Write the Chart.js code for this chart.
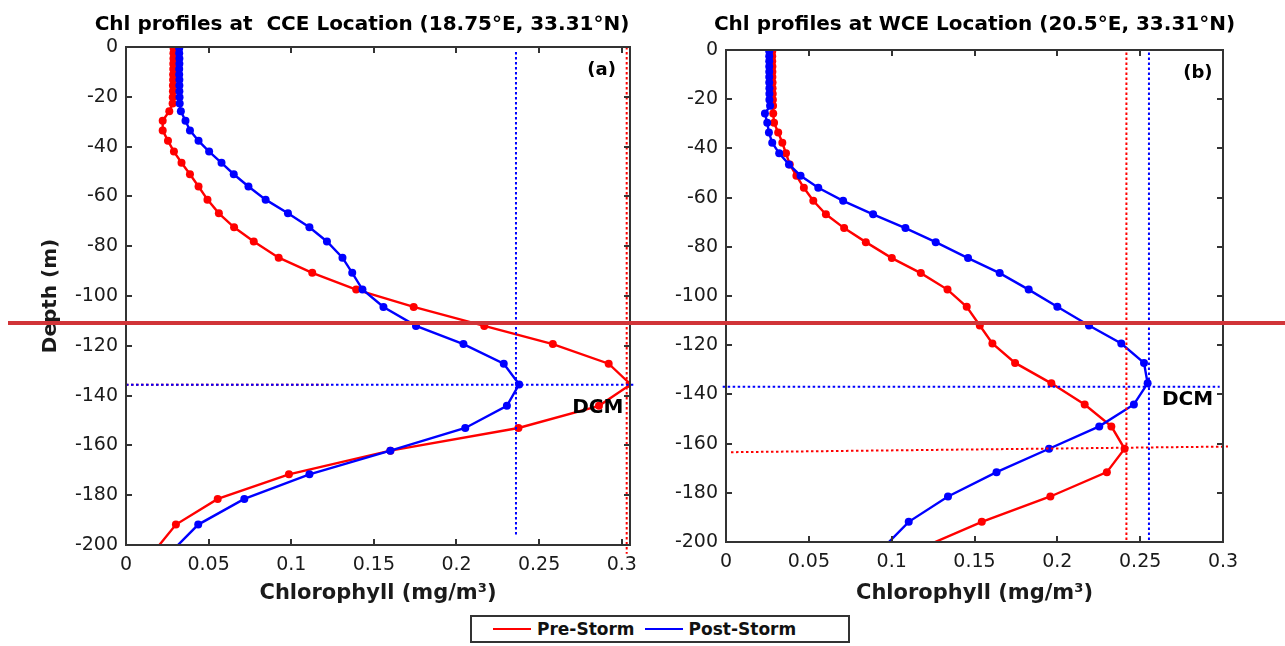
<!DOCTYPE html>
<html>
<head>
<meta charset="utf-8">
<script src="https://cdn.jsdelivr.net/npm/chart.js@4/dist/chart.umd.min.js"></script>
<style>
  body { margin: 0; background: #fff; width: 1285px; height: 646px; position: relative; overflow: hidden; }
  canvas { position: absolute; top: 0; }
  #chartA { left: 0; }
  #chartB { left: 650px; }
  #cut { position: absolute; left: 8px; top: 321px; width: 1277px; height: 4px; background: #d13438; z-index: 5; }
  #legend { position: absolute; left: 470px; top: 615px; width: 376px; height: 24px; border: 2px solid #333;
            font: bold 17px "DejaVu Sans", sans-serif; color: #111; display: flex; align-items: center; }
  #legend .sw { display: inline-block; width: 38px; height: 2px; margin: 0 6px 0 0; }
  #legend .it { display: flex; align-items: center; }
</style>
</head>
<body>
<canvas id="chartA" width="650" height="610"></canvas>
<canvas id="chartB" width="635" height="610"></canvas>
<div id="cut"></div>
<div id="legend">
  <span class="it" style="margin-left:21px"><span class="sw" style="background:#ff0000"></span>Pre-Storm</span>
  <span class="it" style="margin-left:10px"><span class="sw" style="background:#0000ff"></span>Post-Storm</span>
</div>
<script>
// depth of each model level (m), shared by all profiles
var depths = [0.5, 2.5, 4.6, 6.7, 8.8, 11, 13.2, 15.5, 17.8, 20.2, 22.7, 25.8, 29.6, 33.5, 37.7, 42, 46.5, 51.1, 56,
              61.3, 66.8, 72.4, 78.1, 84.6, 90.7, 97.4, 104.4, 112, 119.3, 127.2, 135.5, 144.1, 153, 162.1, 171.6,
              181.5, 191.8, 203];

// (a) CCE
var preCCE  = [0.0288, 0.0287, 0.0287, 0.0286, 0.0286, 0.0285, 0.0285, 0.0284, 0.0284, 0.0283, 0.0282, 0.0262, 0.0222,
               0.0222, 0.0254, 0.029, 0.0336, 0.0387, 0.0439, 0.0493, 0.0562, 0.0654, 0.0773, 0.0924, 0.1127, 0.1393,
               0.1741, 0.2168, 0.2583, 0.2921, 0.3054, 0.2862, 0.2375, 0.16, 0.0986, 0.0555, 0.0302, 0.0165];
var postCCE = [0.0322, 0.0322, 0.0323, 0.0323, 0.0322, 0.0322, 0.0323, 0.0323, 0.0323, 0.0324, 0.0325, 0.0332, 0.036,
               0.0387, 0.0439, 0.0503, 0.0578, 0.0652, 0.0741, 0.0845, 0.098, 0.111, 0.1216, 0.131, 0.1369, 0.1431,
               0.1558, 0.1755, 0.2042, 0.2286, 0.2379, 0.2305, 0.2053, 0.16, 0.111, 0.0716, 0.0437, 0.027];

// (b) WCE
var preWCE  = [0.0279, 0.0279, 0.0279, 0.028, 0.028, 0.028, 0.0281, 0.0281, 0.0282, 0.0283, 0.0284, 0.0285, 0.029,
               0.0315, 0.034, 0.0362, 0.0385, 0.0425, 0.047, 0.0527, 0.0603, 0.0713, 0.0844, 0.1001, 0.1176, 0.1337,
               0.1453, 0.1532, 0.1608, 0.1745, 0.1964, 0.2165, 0.2326, 0.2406, 0.2299, 0.1958, 0.1544, 0.116];
var postWCE = [0.0261, 0.0261, 0.0261, 0.0261, 0.0261, 0.0261, 0.0261, 0.0262, 0.0262, 0.0262, 0.0266, 0.0235, 0.0249,
               0.0259, 0.0279, 0.0321, 0.038, 0.045, 0.0557, 0.0707, 0.0888, 0.1083, 0.1266, 0.1461, 0.1652, 0.1827,
               0.2, 0.2191, 0.2386, 0.2523, 0.2545, 0.2462, 0.2253, 0.195, 0.1633, 0.134, 0.1103, 0.094];

// DCM guide lines: [x0, depth0, x1, depth1]
var guidesA = {
  preV:  [0.303, 0, 0.303, 203.5],
  postV: [0.236, 2, 0.236, 196],
  preH:  [0, 135.6, 0.123, 135.6],
  postH: [0, 135.6, 0.307, 135.6]
};
var guidesB = {
  preV:  [0.2417, 1, 0.2417, 199.5],
  postV: [0.2553, 1, 0.2553, 199.5],
  preH:  [0.003, 163.5, 0.303, 161.2],
  postH: [-0.002, 136.9, 0.298, 136.9]
};

var xTickStep = 0.05;
var yTickStep = 20;
var titles = ["Chl profiles at  CCE Location (18.75°E, 33.31°N)", "Chl profiles at WCE Location (20.5°E, 33.31°N)"];

var RED = "#ff0000", BLUE = "#0000ff", INK = "#1a1a1a";
var FONT = '"DejaVu Sans", sans-serif';

function profile(vals) {
  return vals.map((v, i) => ({x: v, y: -depths[i]}));
}
function guide(g) {
  return [{x: g[0], y: -g[1]}, {x: g[2], y: -g[3]}];
}
function dotted(g, color) {
  return {data: guide(g), borderColor: color, borderWidth: 2, borderDash: [2.5, 2.5],
          pointRadius: 0, showLine: true, clip: false, fill: false};
}
function line(vals, color) {
  return {data: profile(vals), borderColor: color, backgroundColor: color, borderWidth: 2.4,
          pointRadius: 4, pointHoverRadius: 4, pointBorderWidth: 0, showLine: true, fill: false};
}

// axes box with inward ticks (MATLAB style), title and text notes
var frame = {
  id: "frame",
  afterDatasetsDraw(chart, args, opts) {
    const {ctx, chartArea: a, scales: {x, y}} = chart;
    ctx.save();
    ctx.strokeStyle = "#333";
    ctx.lineWidth = 2;
    ctx.strokeRect(a.left, a.top, a.right - a.left, a.bottom - a.top);
    ctx.beginPath();
    x.ticks.forEach(t => {
      const p = Math.round(x.getPixelForValue(t.value));
      ctx.moveTo(p, a.bottom); ctx.lineTo(p, a.bottom - 6);
      ctx.moveTo(p, a.top); ctx.lineTo(p, a.top + 6);
    });
    y.ticks.forEach(t => {
      const p = Math.round(y.getPixelForValue(t.value));
      ctx.moveTo(a.left, p); ctx.lineTo(a.left + 6, p);
      ctx.moveTo(a.right, p); ctx.lineTo(a.right - 6, p);
    });
    ctx.stroke();
    ctx.fillStyle = "#000";
    ctx.textAlign = "center";
    ctx.textBaseline = "alphabetic";
    ctx.font = "bold 20px " + FONT;
    ctx.fillText(opts.title, (a.left + a.right) / 2 + opts.titleShift, 30);
    ctx.textAlign = "right";
    ctx.textBaseline = "middle";
    (opts.notes || []).forEach(n => {
      ctx.font = "bold " + n.size + "px " + FONT;
      ctx.fillText(n.text, x.getPixelForValue(n.x), y.getPixelForValue(n.y));
    });
    ctx.restore();
  }
};

function makeChart(id, cfg) {
  return new Chart(document.getElementById(id), {
    type: "scatter",
    data: {
      datasets: [
        dotted(cfg.guides.postH, BLUE),
        dotted(cfg.guides.postV, BLUE),
        dotted(cfg.guides.preH, RED),
        dotted(cfg.guides.preV, RED),
        line(cfg.post, BLUE),
        line(cfg.pre, RED)
      ]
    },
    options: {
      responsive: false,
      animation: false,
      events: [],
      layout: {padding: {left: 0, right: cfg.padRight, top: cfg.padTop, bottom: 0}},
      plugins: {
        legend: {display: false},
        tooltip: {enabled: false},
        frame: {title: cfg.title, titleShift: cfg.titleShift, notes: cfg.notes}
      },
      scales: {
        x: {
          type: "linear", min: 0, max: cfg.xMax,
          grid: {display: false, drawTicks: false}, border: {display: false},
          ticks: {stepSize: xTickStep, includeBounds: false, padding: 9, color: INK, font: {family: FONT, size: 19},
                  callback: v => String(+v.toFixed(3))},
          title: {display: true, text: "Chlorophyll (mg/m³)", color: INK,
                  font: {family: FONT, size: 21, weight: "bold"}, padding: {top: 0, bottom: 4}},
          afterFit: s => { s.height = cfg.xHeight; }
        },
        y: {
          type: "linear", min: -200, max: 0,
          grid: {display: false, drawTicks: false}, border: {display: false},
          ticks: {stepSize: yTickStep, includeBounds: false, padding: 8, color: INK, font: {family: FONT, size: 19},
                  callback: v => String(Math.round(v))},
          title: {display: cfg.yTitle, text: "Depth (m)", color: INK,
                  font: {family: FONT, size: 20, weight: "bold"}, padding: {top: 39, bottom: 0}},
          afterFit: s => { s.width = cfg.yWidth; }
        }
      }
    },
    plugins: [frame]
  });
}

makeChart("chartA", {
  title: titles[0], titleShift: -16, pre: preCCE, post: postCCE, guides: guidesA, xMax: 0.305,
  padRight: 20, padTop: 47, yWidth: 126, xHeight: 65, yTitle: true,
  notes: [{text: "(a)", x: 0.2965, y: -9.2, size: 18}, {text: "DCM", x: 0.301, y: -145, size: 20}]
});
makeChart("chartB", {
  title: titles[1], titleShift: 0, pre: preWCE, post: postWCE, guides: guidesB, xMax: 0.3,
  padRight: 62, padTop: 50, yWidth: 76, xHeight: 68, yTitle: false,
  notes: [{text: "(b)", x: 0.2937, y: -9.3, size: 18}, {text: "DCM", x: 0.294, y: -142, size: 20}]
});
</script>
</body>
</html>
